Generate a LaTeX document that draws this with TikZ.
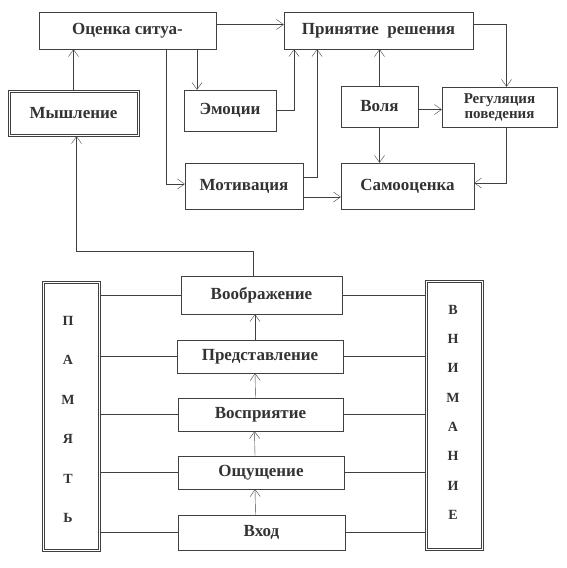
\documentclass[tikz,border=0pt]{standalone}
\usepackage{fontspec}
\setmainfont{Liberation Serif}
\usetikzlibrary{arrows.meta}
\begin{document}
\begin{tikzpicture}[
        x=1pt, y=-1pt,
        block/.style={draw=black!75, thin, fill=white, inner sep=0pt, font=\fontsize{17}{19}\selectfont\bfseries, text=black!80},
        inner/.style={draw=black!75, thin},
        letter/.style={font=\fontsize{14}{16}\selectfont\bfseries, text=black!80},
        conn/.style={-{Straight Barb[length=7pt,width=10pt]}, thin, draw=black!75},
        link/.style={thin, draw=black!75}
    ]
        \useasboundingbox (0,0) rectangle (566,568);

        % Upper part
        \node[block, minimum width=177pt, minimum height=37pt] (ocenka) at (127.5,30.5) {Оценка ситуа-};
        \node[block, minimum width=189pt, minimum height=37pt] (prinyatie) at (378.5,30.5) {Принятие\ \ решения};
        \node[block, minimum width=131pt, minimum height=46pt] (myshlenie) at (73.5,113) {Мышление};
        \draw[inner] ([shift={(2.5pt,-2.5pt)}]myshlenie.north west) rectangle ([shift={(-2.5pt,2.5pt)}]myshlenie.south east);
        \node[block, minimum width=92pt, minimum height=41pt] (emocii) at (230,110.5) {Эмоции};
        \node[block, minimum width=118pt, minimum height=46pt] (motivaciya) at (244,186) {Мотивация};
        \node[block, minimum width=77pt, minimum height=41pt] (volya) at (379.5,106.5) {Воля};
        \node[block, minimum width=115pt, minimum height=40pt, align=center, font=\fontsize{15}{15}\selectfont\bfseries] (regul) at (499.5,107) {Регуляция\\поведения};
        \node[block, minimum width=133pt, minimum height=46pt] (samoocenka) at (407.5,186) {Самооценка};

        % Upper connections
        \draw[conn] (myshlenie.north) -- (myshlenie.north |- ocenka.south);
        \draw[conn] ([yshift=6pt]ocenka.east) -- ([yshift=6pt]ocenka.east -| prinyatie.west);
        \draw[conn] (197,0 |- ocenka.south) -- (197,0 |- emocii.north);
        \draw[conn] (166,0 |- ocenka.south) |- ([yshift=2pt]motivaciya.west);
        \draw[conn] (emocii.east) -| (294,0 |- prinyatie.south);
        \draw[conn] ([yshift=9pt]motivaciya.east) -| (317,0 |- prinyatie.south);
        \draw[conn] ([yshift=-11pt]motivaciya.east) -- ([yshift=-11pt]motivaciya.east -| samoocenka.west);
        \draw[conn] (volya.north) -- (volya.north |- prinyatie.south);
        \draw[conn] ([yshift=-3pt]volya.east) -- ([yshift=-3pt]volya.east -| regul.west);
        \draw[conn] (volya.south) -- (volya.south |- samoocenka.north);
        \draw[conn] ([yshift=6pt]prinyatie.east) -| ([xshift=7pt]regul.north);
        \draw[conn] ([xshift=7pt]regul.south) |- ([yshift=3pt]samoocenka.east);

        % Lower part
        \node[block, minimum width=58pt, minimum height=270pt] (pamyat) at (71,416) {};
        \draw[inner] ([shift={(2.5pt,-2.5pt)}]pamyat.north west) rectangle ([shift={(-2.5pt,2.5pt)}]pamyat.south east);
        \node[block, minimum width=58pt, minimum height=270pt] (vnimanie) at (454,415) {};
        \draw[inner] ([shift={(2.5pt,-2.5pt)}]vnimanie.north west) rectangle ([shift={(-2.5pt,2.5pt)}]vnimanie.south east);
        \node[block, minimum width=161pt, minimum height=38pt] (voobr) at (261.5,295) {Воображение};
        \node[block, minimum width=166pt, minimum height=33pt] (predst) at (260,356.5) {Представление};
        \node[block, minimum width=165pt, minimum height=33pt] (vospr) at (260.5,414.5) {Восприятие};
        \node[block, minimum width=166pt, minimum height=33pt] (oshch) at (261,472.5) {Ощущение};
        \node[block, minimum width=167pt, minimum height=35pt] (vhod) at (261.5,532.5) {Вход};

        \foreach \l [count=\i] in {П,А,М,Я,Т,Ь} {
            \node[letter] (p\i) at (68, 281+\i*39.5) {\l};
        }
        \foreach \l [count=\i] in {В,Н,И,М,А,Н,И,Е} {
            \node[letter] (v\i) at (453, 280.5+\i*29.3) {\l};
        }

        % Lower connections
        \foreach \b in {voobr,predst,vospr,oshch,vhod} {
            \draw[link] (pamyat.east |- \b.west) -- (\b.west);
            \draw[link] (\b.east) -- (\b.east -| vnimanie.west);
        }
        \draw[conn] ([xshift=-6pt]vhod.north) -- ([xshift=-6pt]oshch.south);
        \draw[conn] ([xshift=-6pt]oshch.north) -- ([xshift=-6pt]vospr.south);
        \draw[conn] ([xshift=-5pt]vospr.north) -- ([xshift=-5pt]predst.south);
        \draw[conn] ([xshift=-5pt]predst.north) -- ([xshift=-5pt]predst.north |- voobr.south);
        \draw[conn] ([xshift=-8pt]voobr.north) -- ++(0,-25) -| ([xshift=3pt]myshlenie.south);
    \end{tikzpicture}
\end{document}
